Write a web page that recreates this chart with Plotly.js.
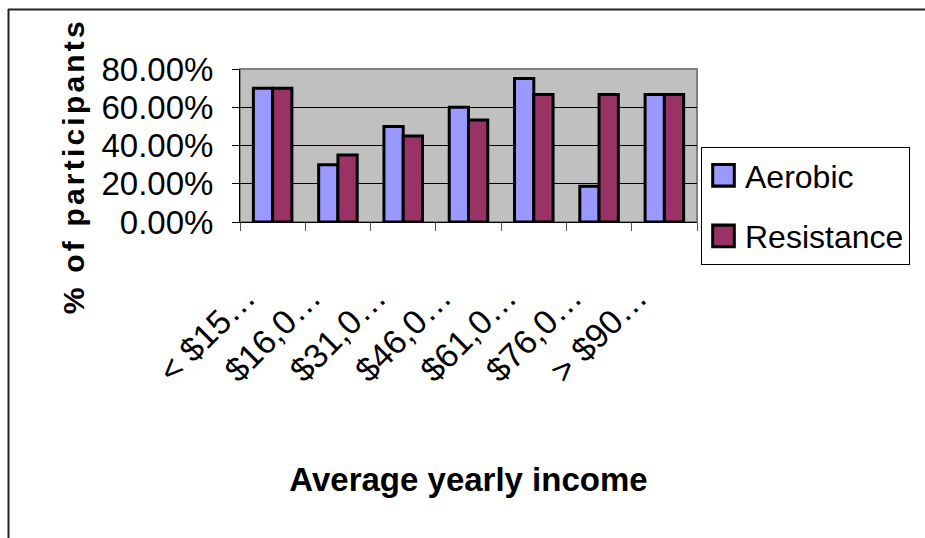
<!DOCTYPE html>
<html>
<head>
<meta charset="utf-8">
<script src="https://cdn.plot.ly/plotly-3.0.1.min.js"></script>
<style>
  html, body { margin: 0; padding: 0; background: #ffffff; }
  #chart { width: 925px; height: 538px; }
  /* spread the letters of the vertical axis caption */
  .annotation[data-index="0"] text { letter-spacing: 3.2px; }
</style>
</head>
<body>
<div id="chart"></div>
<script>
// Share of participants by average yearly income band
const incomeBands = ['< $15…', '$16,0…', '$31,0…', '$46,0…', '$61,0…', '$76,0…', '> $90…'];
const aerobic     = [0.70, 0.30, 0.50, 0.60, 0.75, 0.1875, 0.6667];
const resistance  = [0.70, 0.35, 0.45, 0.5333, 0.6667, 0.6667, 0.6667];
const seriesNames  = ['Aerobic', 'Resistance'];
const seriesColors = ['#9999FF', '#993366'];
const yTickValues  = [0, 0.2, 0.4, 0.6, 0.8];

const W = 925, H = 538;
const M = { l: 240, r: 228, t: 69, b: 316 };
const plotW = W - M.l - M.r, plotH = H - M.t - M.b;
// pixel -> paper coordinate helpers for items placed around the plot
const px = x => (x - M.l) / plotW;
const py = y => (H - M.b - y) / plotH;

const FONT = 'Liberation Sans, Arial, sans-serif';

const traces = [aerobic, resistance].map((vals, i) => ({
  type: 'bar',
  name: seriesNames[i],
  legendgroup: seriesNames[i],
  x: incomeBands,
  y: vals,
  marker: { color: seriesColors[i], line: { color: '#000000', width: 3 } },
  hoverinfo: 'x+y+name'
}));

const layout = {
  width: W,
  height: H,
  margin: M,
  paper_bgcolor: '#ffffff',
  plot_bgcolor: '#C0C0C0',
  barmode: 'group',
  bargap: 0.41,
  bargroupgap: 0,
  font: { family: FONT, color: '#000000' },
  xaxis: {
    type: 'category',
    tickangle: -45,
    tickfont: { family: FONT, size: 34, color: '#000000' },
    ticks: 'outside',
    tickson: 'boundaries',
    ticklen: 8,
    tickcolor: '#555555',
    ticklabelstandoff: 41,
    ticklabelshift: -27,
    showline: true,
    linecolor: '#000000',
    linewidth: 1,
    showgrid: false,
    automargin: false,
    title: {
      text: 'Average yearly income',
      font: { family: FONT, size: 33, color: '#000000', weight: 'bold' },
      standoff: 79
    }
  },
  yaxis: {
    range: [0, 0.8],
    tickvals: yTickValues,
    tickformat: '.2%',
    tickfont: { family: FONT, size: 33, color: '#000000' },
    ticks: 'outside',
    ticklen: 7,
    tickcolor: '#000000',
    ticklabelstandoff: 12,
    showline: true,
    linecolor: '#000000',
    linewidth: 1,
    showgrid: true,
    gridcolor: '#000000',
    gridwidth: 1,
    zeroline: false,
    automargin: false,
    fixedrange: true
  },
  legend: {
    x: px(701),
    y: py(147),
    xanchor: 'left',
    yanchor: 'top',
    bgcolor: '#ffffff',
    bordercolor: '#000000',
    borderwidth: 1,
    font: { family: FONT, size: 32, color: '#000000' },
    tracegroupgap: 16,
    traceorder: 'grouped',
    itemwidth: 33
  },
  annotations: [{
    text: '% of participants',
    textangle: -90,
    xref: 'paper', yref: 'paper',
    x: px(73), y: py(166),
    xanchor: 'center', yanchor: 'middle',
    showarrow: false,
    font: { family: FONT, size: 30, color: '#000000', weight: 'bold' }
  }],
  shapes: [
    // grey frame around the plotting area
    { type: 'rect', xref: 'paper', yref: 'paper', x0: 0, x1: 1, y0: 0, y1: 1,
      line: { color: '#808080', width: 2 }, layer: 'below' },
    // outer chart border (top and left edges)
    { type: 'line', xref: 'paper', yref: 'paper', x0: px(8), x1: px(W + 5), y0: py(9.5), y1: py(9.5),
      line: { color: '#222222', width: 2 } },
    { type: 'line', xref: 'paper', yref: 'paper', x0: px(8.5), x1: px(8.5), y0: py(9), y1: py(H + 5),
      line: { color: '#222222', width: 2 } }
  ]
};

Plotly.newPlot('chart', traces, layout, { displayModeBar: false, staticPlot: true }).then(gd => {
  // larger square swatches in the legend, keeping a ~3px outline
  gd.querySelectorAll('.legendpoints path').forEach(p => {
    const t = p.getAttribute('transform') || '';
    p.setAttribute('transform', t + ' scale(1.8)');
    p.style.strokeWidth = '1.7px';
  });
});
</script>
</body>
</html>
